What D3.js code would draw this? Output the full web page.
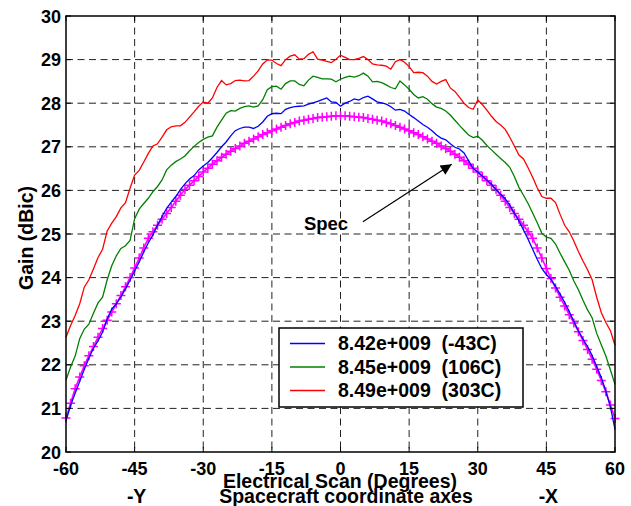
<!DOCTYPE html>
<html>
<head>
<meta charset="utf-8">
<title>Gain vs Electrical Scan</title>
<style>
  body { margin: 0; background: #fff; }
  svg text { font-family: "Liberation Sans", Arial, sans-serif; font-weight: bold; }
</style>
</head>
<body>
<svg width="631" height="506"></svg>
<script src="https://d3js.org/d3.v7.min.js"></script>
<script>
// scan angle, degrees, one point per degree
var scanDeg = d3.range(-60, 61, 1);

var xTicks = [-60, -45, -30, -15, 0, 15, 30, 45, 60];
var yTicks = [20, 21, 22, 23, 24, 25, 26, 27, 28, 29, 30];

// measured gain (dBic), -60 .. 60
var gainCold = [
  20.72, 21.06, 21.35, 21.62, 21.90, 22.15, 22.38, 22.55, 22.75, 23.05,
  23.28, 23.40, 23.56, 23.74, 23.94, 24.15, 24.36, 24.59, 24.80, 24.98,
  25.20, 25.40, 25.59, 25.73, 25.86, 26.02, 26.15, 26.26, 26.34, 26.47,
  26.56, 26.64, 26.75, 26.87, 27.00, 27.11, 27.25, 27.37, 27.42, 27.45,
  27.45, 27.42, 27.47, 27.57, 27.70, 27.76, 27.77, 27.76, 27.86, 27.90,
  27.92, 27.93, 27.94, 27.98, 28.01, 28.04, 28.08, 28.12, 28.03, 28.02,
  27.93,
  28.00, 28.04, 28.10, 28.07, 28.13, 28.16, 28.10, 28.03, 28.01, 27.98,
  27.92, 27.84, 27.86, 27.82, 27.74, 27.67, 27.59, 27.51, 27.45, 27.37,
  27.27, 27.20, 27.16, 27.07, 26.99, 26.95, 26.86, 26.68, 26.50, 26.42,
  26.33, 26.24, 26.14, 26.02, 25.91, 25.81, 25.66, 25.48, 25.30, 25.09,
  24.88, 24.65, 24.42, 24.21, 24.07, 23.96, 23.80, 23.62, 23.43, 23.22,
  23.00, 22.78, 22.59, 22.42, 22.21, 21.96, 21.71, 21.40, 21.03, 20.52
];

var gainMid = [
  21.65, 21.95, 22.20, 22.60, 22.82, 22.93, 23.18, 23.42, 23.55, 23.95,
  24.27, 24.50, 24.67, 24.73, 24.85, 25.35, 25.57, 25.70, 25.82, 25.97,
  26.09, 26.24, 26.47, 26.58, 26.66, 26.72, 26.79, 26.91, 27.01, 27.10,
  27.17, 27.22, 27.25, 27.45, 27.61, 27.77, 27.83, 27.82, 27.88, 27.92,
  27.94, 27.91, 27.94, 28.08, 28.31, 28.38, 28.39, 28.32, 28.45, 28.51,
  28.51, 28.43, 28.40, 28.53, 28.62, 28.59, 28.56, 28.56, 28.55, 28.49,
  28.55,
  28.59, 28.62, 28.60, 28.63, 28.69, 28.62, 28.49, 28.50, 28.47, 28.42,
  28.36, 28.33, 28.51, 28.42, 28.32, 28.20, 28.12, 28.15, 28.09, 27.99,
  27.91, 27.88, 27.82, 27.73, 27.61, 27.49, 27.38, 27.27, 27.21, 27.24,
  27.15, 27.03, 26.93, 26.83, 26.73, 26.64, 26.53, 26.32, 26.07, 25.89,
  25.70, 25.48, 25.26, 25.02, 24.93, 24.90, 24.77, 24.56, 24.36, 24.17,
  23.92, 23.72, 23.48, 23.26, 23.08, 22.72, 22.46, 22.20, 21.88, 21.55
];

var gainHot = [
  22.63, 22.90, 23.13, 23.40, 23.78, 23.95, 24.20, 24.46, 24.65, 25.07,
  25.25, 25.40, 25.60, 25.72, 26.05, 26.35, 26.46, 26.65, 26.85, 27.02,
  27.07, 27.22, 27.39, 27.46, 27.48, 27.48, 27.56, 27.68, 27.80, 27.93,
  28.03, 28.00, 28.12, 28.36, 28.52, 28.42, 28.45, 28.52, 28.53, 28.51,
  28.52, 28.62, 28.74, 28.90, 28.99, 28.99, 28.91, 28.86, 29.00, 29.08,
  29.11, 29.01, 29.02, 29.12, 29.18, 29.01, 28.99, 28.96, 28.93, 29.01,
  29.10,
  29.05, 29.00, 29.00, 29.03, 29.07, 29.00, 28.90, 28.88, 28.87, 28.85,
  28.78, 28.95, 29.00, 28.94, 28.84, 28.70, 28.71, 28.70, 28.62, 28.50,
  28.44, 28.50, 28.54, 28.35, 28.27, 28.14, 28.00, 27.90, 27.86, 28.07,
  27.97, 27.84, 27.70, 27.58, 27.50, 27.40, 27.22, 27.02, 26.81, 26.72,
  26.52, 26.30, 26.06, 25.86, 25.82, 25.82, 25.72, 25.45, 25.20, 25.05,
  24.84, 24.60, 24.38, 24.18, 23.95, 23.55, 23.20, 22.97, 22.78, 22.45
];

// spec line
var gainSpec = [
  20.78, 21.12, 21.45, 21.72, 21.98, 22.21, 22.42, 22.63, 22.83, 23.02,
  23.21, 23.40, 23.59, 23.79, 24.00, 24.22, 24.45, 24.68, 24.90, 25.05,
  25.20, 25.34, 25.47, 25.61, 25.75, 25.89, 26.02, 26.12, 26.22, 26.32,
  26.42, 26.51, 26.60, 26.68, 26.76, 26.83, 26.90, 26.96, 27.02, 27.08,
  27.13, 27.18, 27.23, 27.28, 27.32, 27.37, 27.41, 27.45, 27.49, 27.53,
  27.56, 27.59, 27.61, 27.63, 27.65, 27.67, 27.68, 27.69, 27.70, 27.71,
  27.71,
  27.71, 27.70, 27.69, 27.68, 27.67, 27.65, 27.63, 27.61, 27.59, 27.56,
  27.53, 27.49, 27.45, 27.41, 27.37, 27.32, 27.28, 27.23, 27.18, 27.13,
  27.08, 27.02, 26.96, 26.90, 26.83, 26.76, 26.68, 26.60, 26.51, 26.42,
  26.32, 26.22, 26.12, 26.02, 25.89, 25.75, 25.61, 25.47, 25.34, 25.20,
  25.05, 24.90, 24.68, 24.45, 24.21, 23.98, 23.76, 23.55, 23.35, 23.15,
  22.96, 22.76, 22.56, 22.35, 22.13, 21.90, 21.64, 21.38, 21.08, 20.77
];

var seriesNames = ["8.42e+009  (-43C)", "8.45e+009  (106C)", "8.49e+009  (303C)"];
var seriesColors = ["#0000ff", "#008000", "#ff0000"];
var seriesValues = [gainCold, gainMid, gainHot];

var svg = d3.select("svg");
var plotL = 66, plotR = 615, plotT = 16, plotB = 452;

var x = d3.scaleLinear().domain([-60, 60]).range([plotL, plotR]);
var y = d3.scaleLinear().domain([20, 30]).range([plotB, plotT]);

// grid
var grid = svg.append("g").attr("stroke", "#222").attr("stroke-width", 1)
  .attr("stroke-dasharray", "7,4.5");
grid.selectAll(".gx").data(xTicks.slice(1, -1)).enter().append("line")
  .attr("x1", function(d) { return x(d); }).attr("x2", function(d) { return x(d); })
  .attr("y1", plotT).attr("y2", plotB);
grid.selectAll(".gy").data(yTicks.slice(1, -1)).enter().append("line")
  .attr("y1", function(d) { return y(d); }).attr("y2", function(d) { return y(d); })
  .attr("x1", plotL).attr("x2", plotR);

// curves
var line = d3.line()
  .x(function(d, i) { return x(scanDeg[i]); })
  .y(function(d) { return y(d); });

svg.append("path").datum(gainSpec)
  .attr("d", line).attr("fill", "none")
  .attr("stroke", "#ff00ff").attr("stroke-width", 1.6);

svg.selectAll(".mark").data(gainSpec).enter().append("path")
  .attr("transform", function(d, i) { return "translate(" + x(scanDeg[i]) + "," + y(d) + ")"; })
  .attr("d", "M-4.5,0H4.5M0,-4.5V4.5")
  .attr("stroke", "#ff00ff").attr("stroke-width", 1.5);

seriesValues.forEach(function(vals, k) {
  svg.append("path").datum(vals)
    .attr("d", line).attr("fill", "none")
    .attr("stroke", seriesColors[k]).attr("stroke-width", 1.3);
});

// axes frame + inward ticks
var axisG = svg.append("g");
axisG.append("rect").attr("x", plotL).attr("y", plotT)
  .attr("width", plotR - plotL).attr("height", plotB - plotT)
  .attr("fill", "none").attr("stroke", "#000").attr("stroke-width", 1.5);

var tickLen = 5;
xTicks.forEach(function(t) {
  axisG.append("line").attr("x1", x(t)).attr("x2", x(t)).attr("y1", plotB).attr("y2", plotB - tickLen).attr("stroke", "#000");
  axisG.append("line").attr("x1", x(t)).attr("x2", x(t)).attr("y1", plotT).attr("y2", plotT + tickLen).attr("stroke", "#000");
});
yTicks.forEach(function(t) {
  axisG.append("line").attr("y1", y(t)).attr("y2", y(t)).attr("x1", plotL).attr("x2", plotL + tickLen).attr("stroke", "#000");
  axisG.append("line").attr("y1", y(t)).attr("y2", y(t)).attr("x1", plotR).attr("x2", plotR - tickLen).attr("stroke", "#000");
});

axisG.selectAll(".xl").data(xTicks).enter().append("text")
  .attr("x", function(d) { return x(d); }).attr("y", plotB + 23)
  .attr("text-anchor", "middle").attr("font-size", 18)
  .text(function(d) { return d; });

axisG.selectAll(".yl").data(yTicks).enter().append("text")
  .attr("x", plotL - 5).attr("y", function(d) { return y(d) + 6.5; })
  .attr("text-anchor", "end").attr("font-size", 18)
  .text(function(d) { return d; });

// axis titles
svg.append("text").attr("x", 340).attr("y", 488)
  .attr("text-anchor", "middle").attr("font-size", 19.5)
  .text("Electrical Scan (Degrees)");
svg.append("text").attr("x", 346).attr("y", 503)
  .attr("text-anchor", "middle").attr("font-size", 19.5)
  .text("Spacecraft coordinate axes");
svg.append("text").attr("x", x(-45) + 2).attr("y", 503)
  .attr("text-anchor", "middle").attr("font-size", 19.5).text("-Y");
svg.append("text").attr("x", x(45) + 2).attr("y", 503)
  .attr("text-anchor", "middle").attr("font-size", 19.5).text("-X");
svg.append("text")
  .attr("transform", "translate(33," + ((plotT + plotB) / 2 + 4) + ") rotate(-90)")
  .attr("text-anchor", "middle").attr("font-size", 19.5)
  .text("Gain (dBic)");

// spec annotation
var specLabel = { deg: -8, gain: 25.1 };
var arrowFrom = { deg: 4.9, gain: 25.28 };
var arrowTo = { deg: 24.3, gain: 26.6 };

svg.append("defs").append("marker")
  .attr("id", "head").attr("viewBox", "0 0 10 10")
  .attr("refX", 10).attr("refY", 5)
  .attr("markerWidth", 15).attr("markerHeight", 11)
  .attr("markerUnits", "userSpaceOnUse")
  .attr("orient", "auto")
  .append("path").attr("d", "M0,0L10,5L0,10z").attr("fill", "#000");

svg.append("line")
  .attr("x1", x(arrowFrom.deg)).attr("y1", y(arrowFrom.gain))
  .attr("x2", x(arrowTo.deg)).attr("y2", y(arrowTo.gain))
  .attr("stroke", "#000").attr("stroke-width", 1.2)
  .attr("marker-end", "url(#head)");

svg.append("text").attr("x", x(specLabel.deg)).attr("y", y(specLabel.gain))
  .attr("font-size", 18.5).text("Spec");

// legend
var leg = svg.append("g").attr("transform", "translate(279,328)");
leg.append("rect").attr("width", 244).attr("height", 79)
  .attr("fill", "#fff").attr("stroke", "#000").attr("stroke-width", 1.5);
seriesNames.forEach(function(name, k) {
  var ly = 15.5 + k * 23.5;
  leg.append("line").attr("x1", 11).attr("x2", 46).attr("y1", ly).attr("y2", ly)
    .attr("stroke", seriesColors[k]).attr("stroke-width", 1.3);
  leg.append("text").attr("x", 59).attr("y", ly + 6.5).attr("font-size", 19.5)
    .style("white-space", "pre").text(name);
});
</script>
</body>
</html>
